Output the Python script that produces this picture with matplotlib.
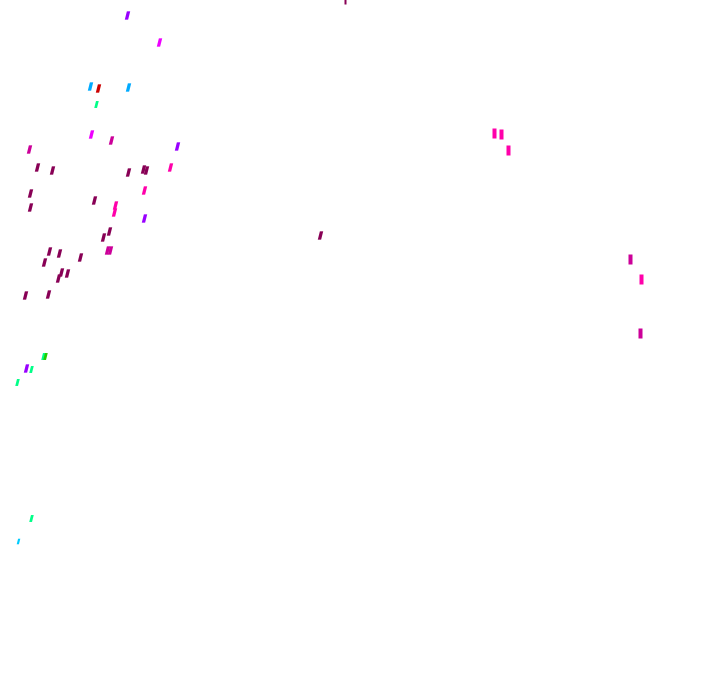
import matplotlib
matplotlib.use("Agg")
from matplotlib import pyplot as plt

# scattered point marks, positions (pixel-like units)

purple_x = [127, 177, 144, 26]
purple_y = [15, 146, 218, 368]

magenta_x = [159, 91]
magenta_y = [42, 134]

blue_x = [90, 128]
blue_y = [86, 87]

red_x = [98]
red_y = [88]

spring_x = [96, 31, 17, 31, 43]
spring_y = [104, 369, 382, 518, 356]

green_x = [45]
green_y = [356]

cyan_x = [18]
cyan_y = [541]

darkmag_x = [111, 29, 107, 110]
darkmag_y = [140, 149, 250, 250]

maroon_x = [37, 52, 128, 143, 146, 30, 30, 94, 103, 109, 49, 59, 80, 44, 61, 67, 58, 25, 48, 320]
maroon_y = [167, 170, 172, 169, 170, 193, 207, 200, 237, 231, 251, 253, 257, 262, 272, 273, 278, 295, 294, 235]

hotpink_x = [170, 144, 115, 114]
hotpink_y = [167, 190, 205, 212]

# upright marks on the right side
bar_pink_x = [494, 501, 508, 641]
bar_pink_y = [133, 134, 150, 279]
bar_darkmag_x = [630, 640]
bar_darkmag_y = [259, 333]
bar_maroon_x = [345]
bar_maroon_y = [1]

slant = [(-0.65, -1), (0.15, -1), (0.65, 1), (-0.15, 1)]
upright = [(-0.36, -1), (0.36, -1), (0.36, 1), (-0.36, 1)]


def plotMarks(ax, xs, ys, color, marker, size=6):
    ax.plot(xs, ys, ls='none', marker=marker, ms=size, mfc=color, mec='none')


fig = plt.figure(figsize=(7.2, 6.92), dpi=100)
ax = fig.add_axes([0, 0, 1, 1])
ax.set_xlim(0, 720)
ax.set_ylim(692, 0)
ax.axis('off')

plotMarks(ax, purple_x, purple_y, '#9900ff', slant)
plotMarks(ax, magenta_x, magenta_y, '#ee00ff', slant)
plotMarks(ax, blue_x, blue_y, '#00aaff', slant)
plotMarks(ax, red_x, red_y, '#cc0000', slant)
plotMarks(ax, spring_x, spring_y, '#00ff88', slant, 5)
plotMarks(ax, green_x, green_y, '#22cc00', slant, 5)
plotMarks(ax, cyan_x, cyan_y, '#00ccff', slant, 4)
plotMarks(ax, darkmag_x, darkmag_y, '#cc0099', slant)
plotMarks(ax, maroon_x, maroon_y, '#880055', slant)
plotMarks(ax, hotpink_x, hotpink_y, '#ff00aa', slant)
plotMarks(ax, bar_pink_x, bar_pink_y, '#ff00aa', upright, 7)
plotMarks(ax, bar_darkmag_x, bar_darkmag_y, '#cc0099', upright, 7)
plotMarks(ax, bar_maroon_x, bar_maroon_y, '#880055', upright, 4)

fig.savefig('out.png', dpi=100, facecolor='white')
